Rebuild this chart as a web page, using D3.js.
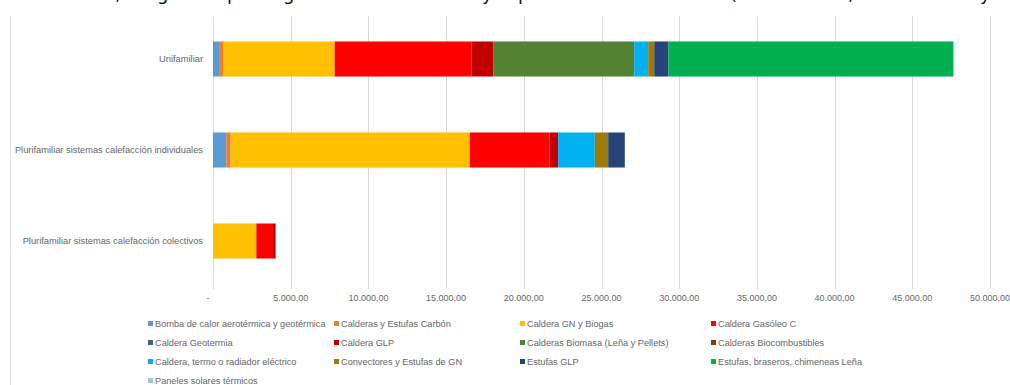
<!DOCTYPE html>
<html>
<head>
<meta charset="utf-8">
<script src="https://cdn.jsdelivr.net/npm/d3@7"></script>
<style>
  html, body { margin: 0; padding: 0; background: #fff; }
  svg { display: block; font-family: "Liberation Sans", Arial, sans-serif; }
</style>
</head>
<body>
<svg id="chart" width="1010" height="385"></svg>
<script>
// ---- data ----
const categories = [
  "Unifamiliar",
  "Plurifamiliar sistemas calefacción individuales",
  "Plurifamiliar sistemas calefacción colectivos"
];
const seriesNames = [
  "Bomba de calor aerotérmica y geotérmica",
  "Calderas y Estufas Carbón",
  "Caldera GN y Biogas",
  "Caldera Gasóleo C",
  "Caldera Geotermia",
  "Caldera GLP",
  "Calderas Biomasa (Leña y Pellets)",
  "Calderas Biocombustibles",
  "Caldera, termo o radiador eléctrico",
  "Convectores y Estufas de GN",
  "Estufas GLP",
  "Estufas, braseros, chimeneas Leña",
  "Paneles solares térmicos"
];
// values per series: [Unifamiliar, Individuales, Colectivos]
const bomba          = [390, 860, 0];
const carbon         = [300, 280, 0];
const gnBiogas       = [7140, 15380, 2790];
const gasoleoC       = [8800, 5150, 1070];
const geotermia      = [0, 0, 0];
const glp            = [1400, 540, 170];
const biomasa        = [9075, 0, 0];
const biocombust     = [0, 0, 0];
const electrico      = [900, 2360, 0];
const convectoresGN  = [390, 860, 0];
const estufasGLP     = [900, 1070, 0];
const estufasLena    = [18340, 0, 0];
const paneles        = [60, 0, 0];
const seriesValues = [bomba, carbon, gnBiogas, gasoleoC, geotermia, glp, biomasa,
  biocombust, electrico, convectoresGN, estufasGLP, estufasLena, paneles];
const colors = ["#5B9BD5", "#ED7D31", "#FFC000", "#FF0000", "#44607F", "#C00000",
  "#548235", "#843C0C", "#00B0F0", "#9E7A08", "#264478", "#00B050", "#9DC3E6"];
const xTicks = [0, 5000, 10000, 15000, 20000, 25000, 30000, 35000, 40000, 45000, 50000];
const xTickLabels = ["-", "5.000,00", "10.000,00", "15.000,00", "20.000,00", "25.000,00",
  "30.000,00", "35.000,00", "40.000,00", "45.000,00", "50.000,00"];
// clipped caption line above the chart (only descenders visible)
const captionGlyphs = [[115, ","], [157, "g"], [227, "p"], [283, "g"], [482, "y"], [518, "p"], [730, "("], [848, ","], [980, "y"]];

// ---- chart ----
const svg = d3.select("#chart");
const x = d3.scaleLinear().domain([0, 50000]).range([213, 990]);
const y = d3.scaleBand().domain(categories).range([13.5, 286.5])
  .paddingInner(0.615).paddingOuter(0.3075);
const plotTop = 16, plotBottom = 289;

// caption fragments
svg.append("g").selectAll("text").data(captionGlyphs).join("text")
  .attr("x", d => d[0]).attr("y", 0)
  .attr("font-family", "DejaVu Sans").attr("font-size", 18).attr("fill", "#111")
  .text(d => d[1]);

// left frame line
svg.append("line").attr("x1", 10.5).attr("x2", 10.5).attr("y1", plotTop).attr("y2", 385)
  .attr("stroke", "#e2e2e2").attr("stroke-width", 1);

// gridlines
svg.append("g").selectAll("line").data(xTicks).join("line")
  .attr("x1", d => Math.round(x(d)) + 0.5).attr("x2", d => Math.round(x(d)) + 0.5)
  .attr("y1", plotTop).attr("y2", plotBottom)
  .attr("stroke", "#d9d9d9").attr("stroke-width", 1);

// x tick labels
svg.append("g").selectAll("text").data(xTicks).join("text")
  .attr("x", (d, i) => i === 0 ? x(d) - 5 : x(d))
  .attr("y", 301)
  .attr("text-anchor", "middle")
  .attr("font-size", 9).attr("fill", "#666")
  .text((d, i) => xTickLabels[i]);

// category labels
svg.append("g").selectAll("text").data(categories).join("text")
  .attr("x", 203).attr("y", d => y(d) + y.bandwidth() / 2 + 3)
  .attr("text-anchor", "end")
  .attr("font-size", 9.3).attr("fill", "#666")
  .text(d => d);

// stacked bars
const rows = categories.map((c, ci) => {
  const o = { cat: c };
  seriesNames.forEach((s, si) => { o[s] = seriesValues[si][ci]; });
  return o;
});
const stack = d3.stack().keys(seriesNames)(rows);
svg.append("g").selectAll("g").data(stack).join("g")
  .attr("fill", (d, i) => colors[i])
  .selectAll("rect").data(d => d).join("rect")
  .attr("x", d => x(d[0]))
  .attr("width", d => Math.max(0, x(d[1]) - x(d[0])))
  .attr("y", d => y(d.data.cat))
  .attr("height", y.bandwidth());

// legend
const legendCols = [148, 334, 520, 711];
const legendRowY = 324, legendRowStep = 19;
const lg = svg.append("g").selectAll("g").data(seriesNames).join("g")
  .attr("transform", (d, i) => `translate(${legendCols[i % 4]},${legendRowY + Math.floor(i / 4) * legendRowStep})`);
lg.append("rect").attr("x", 0).attr("y", -3).attr("width", 5).attr("height", 5)
  .attr("fill", (d, i) => colors[i]);
lg.append("text").attr("x", 7).attr("y", 2.8)
  .attr("font-size", 9.2).attr("fill", "#666")
  .text(d => d);
</script>
</body>
</html>
